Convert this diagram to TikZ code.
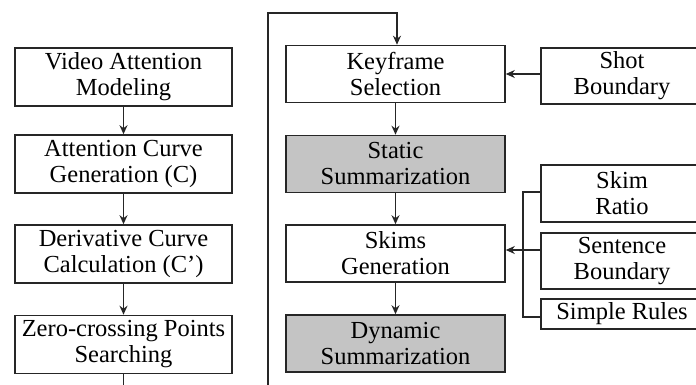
\documentclass[tikz,border=0pt]{standalone}
\usepackage{fontspec}
\setmainfont{Liberation Serif}
\usetikzlibrary{arrows.meta}
\definecolor{boxgray}{RGB}{196,196,196}
\tikzset{
  blk/.style={draw=black!85, line width=1.6pt, fill=white, align=center, inner sep=0pt,
    font=\fontsize{24.5}{26}\selectfont},
  lbox/.style={blk, minimum width=217pt, minimum height=58pt},
  mbox/.style={blk, minimum width=219pt, minimum height=57pt},
  rbox/.style={blk, minimum width=162pt, minimum height=57pt},
  shaded/.style={fill=boxgray},
  link/.style={draw=black!85, line width=1.5pt},
  arr/.style={link, -{Stealth[length=9pt,width=8pt]}}
}
\begin{document}
\begin{tikzpicture}[x=1pt, y=-1pt]
\useasboundingbox (0,0) rectangle (696,385);
\clip (0,0) rectangle (696,385);

% left chain
\node[lbox] (vam) at (123.5,77) {Video Attention\\Modeling};
\node[lbox] (acg) at (123.5,164) {Attention Curve\\Generation (C)};
\node[lbox] (dcc) at (123.5,254) {Derivative Curve\\Calculation (C’)};
\node[lbox] (zcp) at (123.5,344.5) {Zero-crossing Points\\Searching};
\coordinate (lend) at (123.5,386);

% middle chain
\node[mbox] (key) at (395.5,74) {Keyframe\\Selection};
\node[mbox, shaded] (sta) at (395.5,164) {Static\\Summarization};
\node[mbox] (ski) at (395.5,253.5) {Skims\\Generation};
\node[mbox, shaded] (dyn) at (395.5,343.5) {Dynamic\\Summarization};

% inputs on the right
\node[rbox, minimum height=56pt] (sho) at (622,76) {Shot\\Boundary};
\node[rbox] (rat) at (622,193.5) {Skim\\Ratio};
\node[rbox, minimum height=56pt] (sen) at (622,261) {Sentence\\Boundary};
\node[rbox, minimum height=30pt] (rul) at (622,314) {Simple Rules};

% feedback loop
\coordinate (lp0) at (268,386);
\coordinate (lp1) at (268,13);
\coordinate (lp2) at (397,13);

\draw[arr] (vam) -- (acg);
\draw[arr] (acg) -- (dcc);
\draw[arr] (dcc) -- (zcp);
\draw[link] (zcp.south) -- (lend);

\draw[arr] (lp0) -- (lp1) -- (lp2) -- (key.north -| lp2);
\draw[arr] (key) -- (sta);
\draw[arr] (sta) -- (ski);
\draw[arr] (ski) -- (dyn);

\draw[arr] (sho.west |- key.east) -- (key.east);

% bracket collecting the skim inputs
\coordinate (bt) at (523,192);
\coordinate (bb) at (523,317);
\draw[link] (rat.west |- bt) -- (bt) -- (bb) -- (rul.west |- bb);
\draw[arr] (sen.west |- 0,250) -- (ski.east |- 0,250);
\end{tikzpicture}
\end{document}
